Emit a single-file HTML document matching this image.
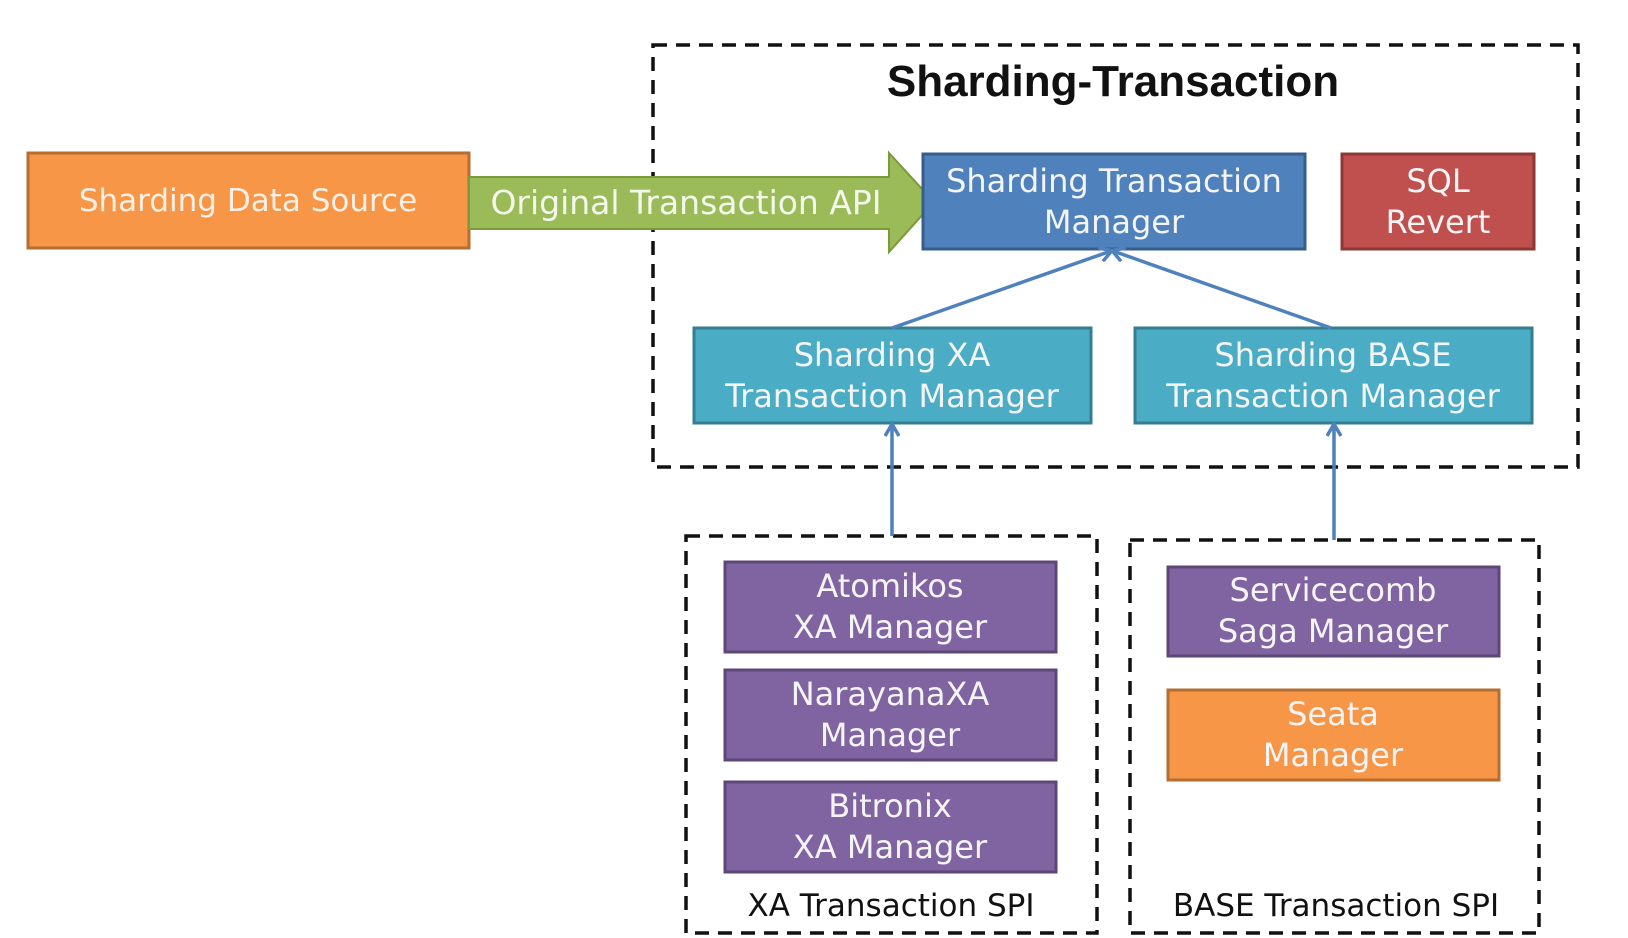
<!DOCTYPE html>
<html><head><meta charset="utf-8"><style>
html,body{margin:0;padding:0;background:#fff;width:1628px;height:938px;overflow:hidden}
svg text{font-family:"DejaVu Sans","Liberation Sans",sans-serif}
</style></head><body>
<svg width="1628" height="938" viewBox="0 0 1628 938" xmlns="http://www.w3.org/2000/svg">
<defs>
<marker id="ah" markerWidth="16" markerHeight="16" refX="12" refY="8" orient="auto" markerUnits="userSpaceOnUse">
<path d="M1,1 L13,8 L1,15" fill="none" stroke="#4F81BD" stroke-width="3.5"/>
</marker>
</defs>
<g fill="none" stroke="#111" stroke-width="3.5" stroke-dasharray="14 9">
<rect x="653" y="45" width="925" height="422"/>
<rect x="686" y="536" width="411" height="397"/>
<rect x="1130" y="540" width="409" height="393"/>
</g>
<text x="1113" y="96" text-anchor="middle" font-size="44" font-weight="bold" fill="#111" style="font-family:'Liberation Sans',sans-serif">Sharding-Transaction</text>
<rect x="28" y="153" width="441" height="95" fill="#F79646" stroke="#B66D31" stroke-width="3"/>
<text x="248" y="211" text-anchor="middle" font-size="31" fill="#fdf0e6">Sharding Data Source</text>
<path d="M469,177 L889,177 L889,153 L934,202 L889,252 L889,229 L469,229 Z" fill="#9BBB59" stroke="#7A9A3C" stroke-width="2"/>
<text x="686" y="214" text-anchor="middle" font-size="33" fill="#f4f8ec">Original Transaction API</text>
<g stroke-width="3">
<rect x="923" y="154" width="382" height="95" fill="#4F81BD" stroke="#385D8A"/>
<rect x="1342" y="154" width="192" height="95" fill="#C0504D" stroke="#8C3836"/>
<rect x="694" y="328" width="397" height="95" fill="#4BACC6" stroke="#357D91"/>
<rect x="1135" y="328" width="397" height="95" fill="#4BACC6" stroke="#357D91"/>
<rect x="725" y="562" width="331" height="90" fill="#8064A2" stroke="#5C4776"/>
<rect x="725" y="670" width="331" height="90" fill="#8064A2" stroke="#5C4776"/>
<rect x="725" y="782" width="331" height="90" fill="#8064A2" stroke="#5C4776"/>
<rect x="1168" y="567" width="331" height="89" fill="#8064A2" stroke="#5C4776"/>
<rect x="1168" y="690" width="331" height="90" fill="#F79646" stroke="#B66D31"/>
</g>
<g stroke="#4F81BD" stroke-width="3.5" fill="none">
<line x1="892" y1="328" x2="1111" y2="251" marker-end="url(#ah)"/>
<line x1="1331" y1="328" x2="1113" y2="251" marker-end="url(#ah)"/>
<line x1="892" y1="536" x2="892" y2="425" marker-end="url(#ah)"/>
<line x1="1334" y1="540" x2="1334" y2="425" marker-end="url(#ah)"/>
</g>
<g font-size="32" fill="#f4f4f4" text-anchor="middle">
<text x="1114" y="192">Sharding Transaction</text>
<text x="1114" y="233">Manager</text>
<text x="1438" y="192">SQL</text>
<text x="1438" y="233">Revert</text>
<text x="892" y="366">Sharding XA</text>
<text x="892" y="407">Transaction Manager</text>
<text x="1333" y="366">Sharding BASE</text>
<text x="1333" y="407">Transaction Manager</text>
<text x="890" y="597">Atomikos</text>
<text x="890" y="638">XA Manager</text>
<text x="890" y="705">NarayanaXA</text>
<text x="890" y="746">Manager</text>
<text x="890" y="817">Bitronix</text>
<text x="890" y="858">XA Manager</text>
<text x="1333" y="601">Servicecomb</text>
<text x="1333" y="642">Saga Manager</text>
<text x="1333" y="725">Seata</text>
<text x="1333" y="766">Manager</text>
</g>
<g font-size="31" fill="#111" text-anchor="middle">
<text x="891" y="916">XA Transaction SPI</text>
<text x="1336" y="916">BASE Transaction SPI</text>
</g>
</svg>
</body></html>
